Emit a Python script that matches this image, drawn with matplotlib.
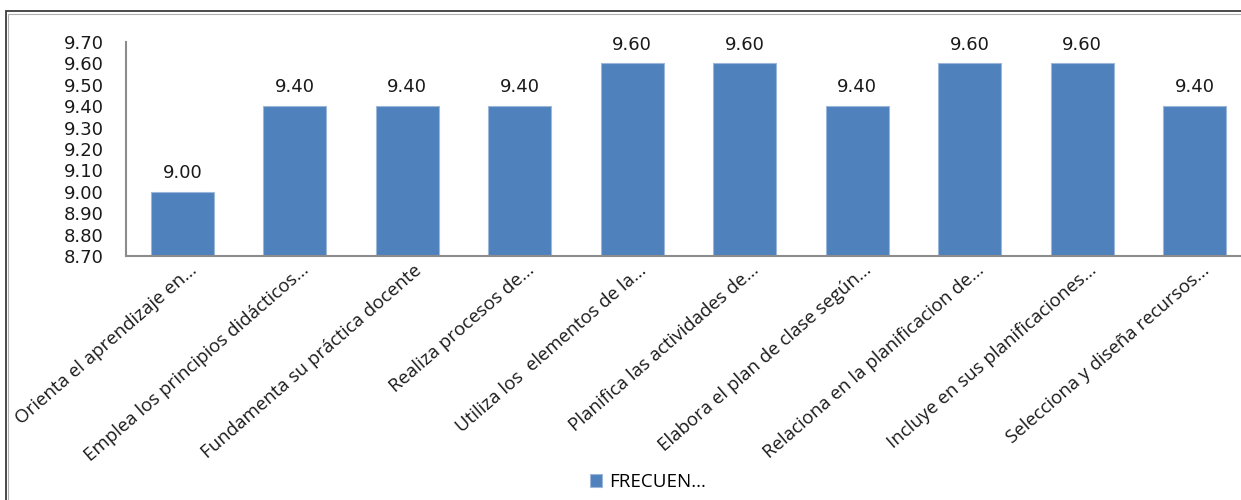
import matplotlib
matplotlib.use('Agg')
import matplotlib.pyplot as plt
import matplotlib.transforms as mtransforms
from matplotlib.patches import Rectangle

categories = [
    'Orienta el aprendizaje en...',
    'Emplea los principios didácticos...',
    'Fundamenta su práctica docente',
    'Realiza procesos de...',
    'Utiliza los  elementos de la...',
    'Planifica las actividades de...',
    'Elabora el plan de clase según...',
    'Relaciona en la planificacion de...',
    'Incluye en sus planificaciones...',
    'Selecciona y diseña recursos...',
]
values = [9.00, 9.40, 9.40, 9.40, 9.60, 9.60, 9.40, 9.60, 9.60, 9.40]
series_name = 'FRECUEN...'
y_ticks = [8.70, 8.80, 8.90, 9.00, 9.10, 9.20, 9.30, 9.40, 9.50, 9.60, 9.70]

W, H = 1241, 500
fig = plt.figure(figsize=(W / 100, H / 100), dpi=100)
ax = fig.add_axes([126 / W, 1 - 256 / H, 1125 / W, (256 - 42) / H])

x = list(range(len(categories)))
bars = ax.bar(x, values, width=0.56, color='#4F81BD', edgecolor='#9DB7DA',
              linewidth=0.8, label=series_name)

ax.set_xlim(-0.5, len(categories) - 0.5)
ax.set_ylim(8.70, 9.70)
ax.set_yticks(y_ticks)
ax.set_yticklabels(['%.2f' % t for t in y_ticks], fontsize=13,
                   family='DejaVu Sans', color='#1a1a1a')
ax.tick_params(axis='y', length=0, pad=16)

ax.set_xticks(x)
ax.set_xticklabels(categories, rotation=41, ha='right', va='center',
                   rotation_mode='anchor', fontsize=13.4, family='Open Sans',
                   color='#1a1a1a')
ax.tick_params(axis='x', length=0, pad=8.5)
shift = mtransforms.ScaledTranslation(12 / 100, 0, fig.dpi_scale_trans)
for lab in ax.get_xticklabels():
    lab.set_transform(lab.get_transform() + shift)

for s in ['top', 'right']:
    ax.spines[s].set_visible(False)
for s in ['left', 'bottom']:
    ax.spines[s].set_color('#8C8C8C')
    ax.spines[s].set_linewidth(1.5)

for b, v in zip(bars, values):
    ax.annotate('%.2f' % v, (b.get_x() + b.get_width() / 2, v),
                xytext=(0, 7), textcoords='offset points',
                ha='center', va='bottom', fontsize=13,
                family='DejaVu Sans', color='#1a1a1a')

fig.legend(handles=[bars], labels=[series_name], loc='center',
           bbox_to_anchor=(648 / W, 1 - 482 / H), frameon=False,
           handlelength=0.65, handleheight=0.65, handletextpad=0.4,
           prop={'family': 'Open Sans', 'size': 13.5})

# chart frame (runs off the right and bottom edges, as in the screenshot)
fig.add_artist(Rectangle((6 / W, -0.05), 1.1, 1.05 - 11 / H,
                         transform=fig.transFigure, fill=False,
                         edgecolor='#3C3C3C', linewidth=1.3))
fig.add_artist(Rectangle((8 / W, -0.05), 1.1, 1.05 - 14 / H,
                         transform=fig.transFigure, fill=False,
                         edgecolor='#B0B0B0', linewidth=0.8))

fig.savefig('out.png', dpi=100)
